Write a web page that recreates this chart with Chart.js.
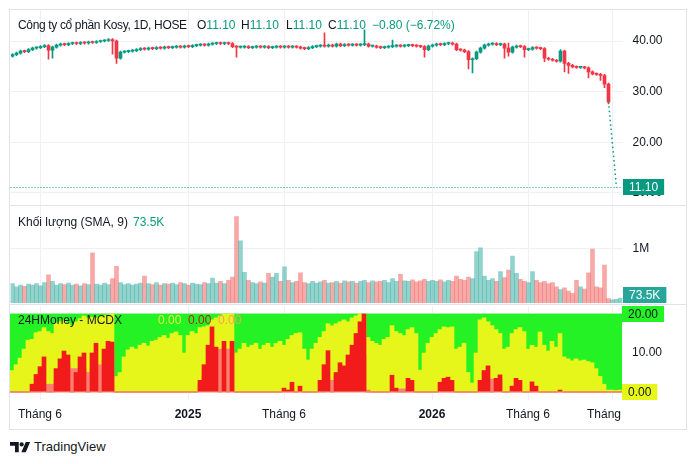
<!DOCTYPE html>
<html>
<head>
<meta charset="utf-8">
<script src="https://cdn.jsdelivr.net/npm/chart.js@4.4.1/dist/chart.umd.min.js"></script>
<style>
body{margin:0;background:#fff;width:696px;height:464px;position:relative;overflow:hidden;font-family:'Liberation Sans',Arial,sans-serif;color:#131722}
.frame{position:absolute;left:9px;top:9px;width:678px;height:421px;border:1px solid #e0e3eb;box-sizing:border-box}
.pane{position:absolute;left:10px}
.pane canvas{display:block}
.sep{position:absolute;left:10px;width:676px;height:1px;background:#e0e3eb}
.lg{position:absolute;font-size:12px;line-height:14px;white-space:nowrap}
.teal{color:#089981}
.logo{position:absolute;left:10px;top:439px;font-size:13px;line-height:15px;display:flex;align-items:center}
</style>
</head>
<body>
<div class="frame"></div>
<div class="pane" style="top:10px"><canvas id="price" width="676" height="195"></canvas></div>
<div class="sep" style="top:205px"></div>
<div class="pane" style="top:206px"><canvas id="volume" width="676" height="97"></canvas></div>
<div class="sep" style="top:304px"></div>
<div class="pane" style="top:306px"><canvas id="mcdx" width="676" height="122"></canvas></div>

<div class="lg" style="left:18px;top:18px;letter-spacing:-0.35px">Công ty cổ phần Kosy, 1D, HOSE</div>
<div class="lg" style="left:197px;top:18px">O<span class="teal">11.10</span></div>
<div class="lg" style="left:241px;top:18px">H<span class="teal">11.10</span></div>
<div class="lg" style="left:286px;top:18px">L<span class="teal">11.10</span></div>
<div class="lg" style="left:328px;top:18px">C<span class="teal">11.10</span></div>
<div class="lg teal" style="left:372px;top:18px">−0.80 (−6.72%)</div>
<div class="lg" style="left:18px;top:215px">Khối lượng (SMA, 9)</div>
<div class="lg teal" style="left:133px;top:215px">73.5K</div>
<div class="lg" style="left:18px;top:313px">24HMoney - MCDX</div>
<div class="lg" style="left:158px;top:313px;color:#e4f53c">0.00</div>
<div class="lg" style="left:188px;top:313px;color:#b3221b">0.00</div>
<div class="lg" style="left:218px;top:313px;color:#f5a35e">0.00</div>
<div class="logo"><svg width="21" height="12" viewBox="0 0 36 20"><path d="M15 19H8.5V8H0V1.5h15z M27 19h-7.5l7.5-17.5h7.5z" fill="#131722"/><circle cx="20" cy="5.5" r="3.6" fill="#131722"/></svg><span style="margin-left:3px">TradingView</span></div>

<script>
// time slots, one per candle position (4 px each)
const slots = Array.from({length: 153}, (_, i) => i);
const tickIdx = [7, 44, 68, 105, 129, 148];
const tickText = ['Tháng 6', '2025', 'Tháng 6', '2026', 'Tháng 6', 'Tháng'];
const boldTicks = ['2025', '2026'];
const gridIdx = [7, 44, 68, 105, 129, 150];

// price (OHLC)
const opens = [
37.0,37.3,37.6,38.0,37.9,38.3,38.6,38.7,38.9,39.1,
38.2,38.8,39.2,39.4,39.3,39.5,39.6,39.5,39.7,39.6,
39.8,39.7,39.9,40.0,40.1,40.3,40.0,36.6,37.8,37.9,
38.0,38.1,38.3,38.5,38.4,38.6,38.5,38.7,38.6,38.8,
38.7,38.8,38.9,38.8,39.0,38.9,39.1,39.2,39.3,39.2,
39.4,39.5,39.6,39.5,39.6,39.5,38.9,38.8,38.8,38.9,
38.7,38.8,38.9,38.8,38.9,38.7,38.8,38.9,38.8,38.9,
38.8,38.9,38.8,38.6,38.5,38.7,38.9,39.0,39.1,39.0,
39.2,39.0,39.4,39.1,39.3,39.2,39.3,39.2,39.3,39.4,
39.0,39.0,38.8,38.7,38.8,38.9,39.0,39.1,39.0,39.1,
39.2,39.1,39.0,38.9,38.3,39.0,39.2,39.4,39.3,39.5,
39.6,39.4,38.3,38.2,37.9,36.3,36.5,37.8,38.6,39.2,
39.4,39.5,39.3,39.4,38.6,37.8,38.8,39.0,38.9,38.3,
38.4,38.7,38.6,38.5,36.6,36.4,36.2,36.0,38.0,35.6,
35.2,34.9,34.8,34.8,34.7,33.9,33.5,33.4,33.2,31.5];
const closes = [
37.3,37.6,38.0,37.9,38.3,38.6,38.7,38.9,39.1,38.2,
38.8,39.2,39.4,39.3,39.5,39.6,39.5,39.7,39.6,39.8,
39.7,39.9,40.0,40.1,40.3,40.0,36.6,37.8,37.9,38.0,
38.1,38.3,38.5,38.4,38.6,38.5,38.7,38.6,38.8,38.7,
38.8,38.9,38.8,39.0,38.9,39.1,39.2,39.3,39.2,39.4,
39.5,39.6,39.5,39.6,39.5,38.9,38.8,38.8,38.9,38.7,
38.8,38.9,38.8,38.9,38.7,38.8,38.9,38.8,38.9,38.8,
38.9,38.8,38.6,38.5,38.7,38.9,39.0,39.1,39.0,39.2,
39.0,39.4,39.1,39.3,39.2,39.3,39.2,39.3,39.4,39.0,
39.0,38.8,38.7,38.8,38.9,39.0,39.1,39.0,39.1,39.2,
39.1,39.0,38.9,38.3,39.0,39.2,39.4,39.3,39.5,39.6,
39.4,38.3,38.2,37.9,36.3,36.5,37.8,38.6,39.2,39.4,
39.5,39.3,39.4,38.6,37.8,38.8,39.0,38.9,38.3,38.4,
38.7,38.6,38.5,36.6,36.4,36.2,36.0,38.0,35.6,35.2,
34.9,34.8,34.8,34.7,33.9,33.5,33.4,33.2,31.5,28.0];
const highs = [
37.5,37.8,38.2,38.2,38.5,38.8,38.9,39.1,39.3,39.3,
39.0,39.4,39.6,39.6,39.7,39.8,39.8,39.9,39.9,40.0,
40.0,40.1,40.2,40.3,40.5,40.5,40.2,38.0,38.1,38.2,
38.3,38.5,38.7,38.7,38.8,38.8,38.9,38.9,39.0,39.0,
39.0,39.1,39.1,39.2,39.2,39.3,39.4,39.5,39.5,39.6,
39.7,39.8,39.8,39.8,39.8,39.7,39.1,39.0,39.1,39.1,
39.0,39.1,39.1,39.1,39.1,39.0,39.1,39.1,39.1,39.1,
39.1,39.1,39.0,38.8,38.9,39.1,39.2,39.3,41.6,39.4,
39.4,39.6,39.6,39.5,39.5,39.5,39.5,39.5,42.2,39.6,
39.2,39.2,39.0,39.0,39.1,40.2,39.3,39.3,39.3,39.4,
39.4,39.3,39.2,39.1,39.2,39.4,39.6,39.6,39.7,39.8,
39.8,39.6,38.5,38.4,38.1,36.7,38.0,38.8,39.4,39.6,
39.7,39.7,39.6,39.6,39.6,39.0,39.2,39.2,39.1,38.6,
38.9,38.9,38.8,38.7,36.8,36.6,36.4,38.3,38.2,35.8,
35.4,35.1,35.0,35.0,34.9,34.1,33.7,33.6,33.4,31.7];
const lows = [
36.8,37.1,37.4,37.7,37.7,38.1,38.4,38.5,38.7,36.4,
36.6,38.6,39.0,39.1,39.1,39.3,39.3,39.3,39.4,39.4,
39.5,39.5,39.7,39.8,39.9,37.4,35.6,36.4,37.6,37.7,
37.8,37.9,38.1,38.2,38.2,38.3,38.3,38.4,38.4,38.5,
38.5,38.6,38.6,38.6,38.7,38.7,38.9,39.0,39.0,39.0,
39.2,39.3,39.3,39.3,39.3,38.7,36.8,38.6,38.6,38.5,
38.5,38.6,38.6,38.6,38.5,38.5,38.6,38.6,38.6,38.6,
38.6,38.6,38.4,38.3,38.3,38.5,38.7,38.8,38.8,38.8,
38.8,38.8,38.9,38.9,39.0,39.0,39.0,39.0,39.1,38.8,
38.8,38.6,38.5,38.5,38.6,38.7,38.8,38.8,38.8,38.9,
38.9,38.8,38.7,36.8,38.1,38.8,39.0,39.1,39.1,39.3,
39.2,38.1,38.0,37.7,34.5,33.7,36.3,37.6,38.4,39.0,
39.2,39.1,39.1,36.6,37.0,37.6,38.6,38.7,36.8,38.1,
38.2,38.4,38.3,35.9,36.2,36.0,35.8,35.8,33.9,33.6,
34.7,34.6,34.6,34.5,32.7,33.3,33.2,32.2,30.8,27.6];
const lastPrice = 11.10;
const priceTicks = [10, 20, 30, 40];

// volume, thousands of shares
const volumes = [
360,300,330,310,350,330,360,320,380,520,
400,330,360,340,370,330,350,320,360,340,
930,350,330,370,340,450,680,380,340,360,
330,350,370,500,360,340,380,330,360,350,
370,340,380,360,330,370,350,340,380,360,
460,370,400,360,420,480,1600,1150,570,420,
380,360,390,370,550,480,550,400,670,420,
380,400,560,380,360,400,370,390,420,370,
380,400,370,410,390,400,370,400,420,380,
410,390,400,420,380,450,400,530,410,400,
430,390,410,440,400,420,400,430,390,420,
400,500,440,420,480,450,950,1020,500,420,
450,400,580,470,610,870,550,440,400,380,
580,420,380,400,360,380,300,250,280,220,
180,420,300,260,560,1000,300,280,700,80,
60,70,90];
const volumeSma = 73.5;
const volumeTicks = [1000];

// MCDX: top of the yellow band, banker (red), banker average (salmon)
const mcdxTop = 20;
const yellowTop = [
5.5,7,8.7,11,13.3,13.5,15.2,15.5,16.5,15.5,
15,17.7,18,18.5,17.5,17,18,18.8,19.5,19,
19.2,19,19.5,19.6,19.8,20,4,5,9,10.8,
11.5,11,12,12.5,11.8,13,13.3,14,14.5,13.8,
15,15.4,14.5,10,14.5,15.5,15,16.5,16.7,17,
18.5,19,19.5,20,20,20,10,11,12.5,11.5,
12,12.5,11,12,12.5,11.5,12.5,13,12,13.5,
14.5,15,15.2,11,8.2,11,12.5,14,15.5,17.5,
17,17.5,18,18.5,18,19,19.5,20,20,14,
13,12.5,12,13.5,14,17,15.5,15,14.5,16,
16.5,15,5.6,10,12.5,14,15,16,16.7,16.5,
16.7,11,11.5,12.5,5,2.3,10,18.5,19,18,
17,16,15,11,11.5,15,16,16.5,15.5,11,
12,11.5,15.4,12,10.5,13,11.5,15,9,8.5,
8,8.5,8,8.2,7.8,7.5,6,4,2,0.5,
0.5,0.4,0.5];
const banker = [
0,0,0,0,0,2,4.5,6.5,9,0,
0,6,8.5,10.5,9.5,0,5,9,10,0,
10,12.5,0,11,13,12.8,0,0,0,0,
0,0,0,0,0,0,0,0,0,0,
0,0,0,0,0,0,0,3,7,12,
16.7,11.5,0,13,0,13,0,0,0,0,
0,0,0,0,0,0,0,0,1,0.5,
2.5,0,1.5,0,0,0,0,3,7,10.6,
0,5,7.5,6.7,9.5,12,15,18,20,0,
0,0,0,0,0,4.3,1,0,0,3.5,
3,0,0,0,0,0,0,2.5,3.5,3.8,
3,0,0,0,0,0,0,3,5.5,6.7,
0,3.5,4.4,0,0,1.5,3.5,3,0,0,
2.6,1.5,0,0,0,0,0,0.5,0,0,
0,0,0,0,0,0,0,0,0,0,
0,0,0];
const bankerAvg = [
0,0,0,0,0,0,0,0,1,2,
2,3,4,5,7,6,6,6,6,5,
6,7,7,8,10,10,0,0,0,0,
0,0,0,0,0,0,0,0,0,0,
0,0,0,0,0,0,0,2,4,6,
9,11,11,11,11,11,0,0,0,0,
0,0,0,0,0,0,0,0,0,0,
0,0,0,0,0,0,0,0,0,3,
3,4,5,6,8,9,9.5,9.5,9.5,0.5,
0,0,0,0,0,0,0,0.8,0.8,0,
0,0,0,0,0,0,0,0,0,0,
0,0,0,0,0,0,0,0,0,0,
3.3,3.3,3.3,0,0,0,0,0,0,0,
0,0,0,0,0,0,0,0,0,0,
0,0,0,0,0,0,0,0,0,0,
0,0,0];
const mcdxTicks = [0, 10, 20];

const fontFamily = "'Liberation Sans', Arial, sans-serif";
const textColor = '#131722';
const gridColor = '#eef0f4';
const upColor = '#089981', downColor = '#f23645';
const upVol = 'rgba(38,166,154,0.5)', downVol = 'rgba(239,83,80,0.5)';

Chart.defaults.font.family = fontFamily;
Chart.defaults.font.size = 12;
Chart.defaults.color = textColor;

const isUp = i => i >= closes.length || closes[i] >= opens[i];
const lastBar = closes.length - 1;
const bodies = slots.map(i => i < closes.length ? [opens[i], closes[i]] : null);
const wicks = slots.map(i => i < closes.length ? [lows[i], highs[i]] : null);
const candleColors = slots.map(i => isUp(i) ? upColor : downColor);
const gapLine = slots.map(i => i === lastBar ? closes[lastBar] : (i === lastBar + 2 ? lastPrice : null));

function makeX(showTicks) {
    return {
        type: 'category',
        offset: true,
        grid: {offset: false, drawTicks: false, color: c => gridIdx.includes(c.index) ? gridColor : 'transparent'},
        border: {display: false},
        ticks: showTicks ? {
            autoSkip: false, maxRotation: 0, minRotation: 0, padding: 7, color: textColor,
            callback: (v, i) => { const k = tickIdx.indexOf(i); return k < 0 ? '' : tickText[k]; },
            font: c => ({weight: boldTicks.includes(tickText[tickIdx.indexOf(c.index)]) ? 'bold' : 'normal'})
        } : {display: false},
        afterFit: s => { s.height = showTicks ? 28 : 0; s.paddingLeft = 0; s.paddingRight = 0; }
    };
}
function makeY(min, max, ticks, fmt, width) {
    return {
        position: 'right', min: min, max: max,
        afterBuildTicks: s => { s.ticks = ticks.map(v => ({value: v})); },
        ticks: {callback: fmt, padding: 10, color: textColor},
        grid: {color: gridColor, drawTicks: false},
        border: {display: false},
        afterFit: s => { s.width = width; s.paddingTop = 0; s.paddingBottom = 0; }
    };
}
function axisBoxes(items) {
    return {
        id: 'axisBoxes',
        afterDraw(chart) {
            const ctx = chart.ctx, area = chart.chartArea, y = chart.scales.y;
            ctx.save();
            ctx.font = '12px ' + fontFamily;
            ctx.textBaseline = 'middle';
            items.forEach(b => {
                let py = y.getPixelForValue(b.value);
                py = Math.min(Math.max(py, area.top + 8), area.bottom - 8);
                const x = Math.round(area.right);
                const w = ctx.measureText(b.text).width + 12;
                ctx.fillStyle = b.bg;
                ctx.fillRect(x, Math.round(py - 8), w, 16);
                ctx.fillStyle = b.fg;
                ctx.fillText(b.text, x + 6, Math.round(py) + 0.5);
            });
            ctx.restore();
        }
    };
}
const priceLine = {
    id: 'priceLine',
    afterDatasetsDraw(chart) {
        const ctx = chart.ctx, area = chart.chartArea;
        const py = Math.round(chart.scales.y.getPixelForValue(lastPrice)) + 0.5;
        ctx.save();
        ctx.strokeStyle = upColor;
        ctx.lineWidth = 1;
        ctx.setLineDash([1, 2]);
        ctx.beginPath();
        ctx.moveTo(area.left, py);
        ctx.lineTo(area.right, py);
        ctx.stroke();
        ctx.restore();
    }
};
function baseOptions(scales, padLeft) {
    return {
        responsive: false, animation: false, events: [],
        layout: {padding: {left: padLeft, right: 0, top: 0, bottom: 0}},
        plugins: {legend: {display: false}, tooltip: {enabled: false}},
        scales: scales
    };
}

new Chart(document.getElementById('price'), {
    type: 'bar',
    data: {
        labels: slots,
        datasets: [
            {type: 'line', data: gapLine, borderColor: upColor, borderWidth: 1.5, borderDash: [1.5, 3], pointRadius: 0, spanGaps: true, order: 0},
            {data: bodies, backgroundColor: candleColors, barThickness: 3, minBarLength: 1, grouped: false, order: 1},
            {data: wicks, backgroundColor: candleColors, barThickness: 1, grouped: false, order: 2}
        ]
    },
    options: baseOptions({x: makeX(false), y: makeY(7.63, 46.12, priceTicks, v => v.toFixed(2), 63.5)}, 0.5),
    plugins: [priceLine, axisBoxes([{value: lastPrice, text: '11.10', bg: '#089981', fg: '#ffffff'}])]
});

new Chart(document.getElementById('volume'), {
    type: 'bar',
    data: {
        labels: slots,
        datasets: [{
            data: volumes,
            backgroundColor: slots.map(i => isUp(i) ? upVol : downVol),
            barPercentage: 1, categoryPercentage: 1
        }]
    },
    options: baseOptions({x: makeX(false), y: makeY(0, 1796, volumeTicks, v => (v / 1000) + 'M', 63.5)}, 0.5),
    plugins: [axisBoxes([{value: volumeSma, text: '73.5K', bg: '#26a69a', fg: '#ffffff'}])]
});

const col = {barPercentage: 1, categoryPercentage: 1, grouped: false};
new Chart(document.getElementById('mcdx'), {
    type: 'bar',
    data: {
        labels: slots,
        datasets: [
            Object.assign({data: slots.map(() => mcdxTop), backgroundColor: '#24f224', order: 4}, col),
            Object.assign({data: yellowTop, backgroundColor: '#e6f51a', order: 3}, col),
            Object.assign({data: bankerAvg, backgroundColor: '#fa8072', order: 2}, col),
            Object.assign({data: banker, backgroundColor: '#f21b1b', order: 1}, col),
            {type: 'line', data: slots.map(() => 0), borderColor: '#f59a7a', borderWidth: 1, pointRadius: 0, order: 0}
        ]
    },
    options: baseOptions({x: makeX(true), y: makeY(-2.05, 22.05, mcdxTicks, v => v.toFixed(2), 64)}, 0),
    plugins: [axisBoxes([
        {value: mcdxTop, text: '20.00', bg: '#24f224', fg: textColor},
        {value: 0, text: '0.00', bg: '#e6f51a', fg: textColor}
    ])]
});
</script>
</body>
</html>
